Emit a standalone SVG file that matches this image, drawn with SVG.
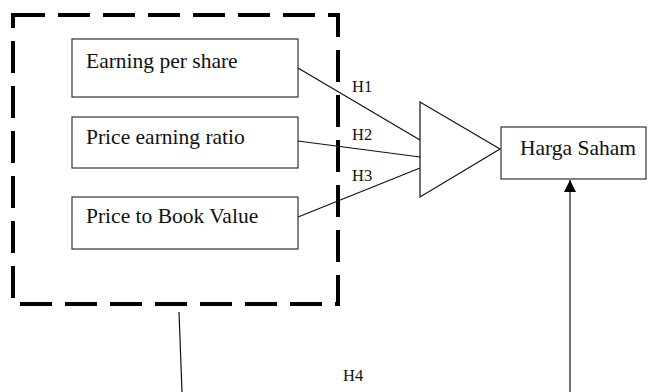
<svg xmlns="http://www.w3.org/2000/svg" width="650" height="392" viewBox="0 0 650 392">
  <defs>
    <marker id="arrowUp" viewBox="0 0 12 12" refX="12" refY="6" markerWidth="12" markerHeight="12" markerUnits="userSpaceOnUse" orient="auto">
      <path d="M0,0 L12,6 L0,12 Z" fill="#000"/>
    </marker>
  </defs>
  <style>
    .box { fill: #fff; stroke: #333; stroke-width: 1.2; }
    .label { font-family: "Liberation Serif", "Times New Roman", serif; font-size: 21.5px; fill: #111; }
    .hyp { font-family: "Liberation Serif", "Times New Roman", serif; font-size: 16.5px; fill: #111; }
    .link { stroke: #111; stroke-width: 1.2; fill: none; }
    .group { fill: none; stroke: #000; stroke-width: 4; stroke-dasharray: 32 13; }
  </style>

  <rect width="650" height="392" fill="#fff"/>

  <!-- dashed boundary around the independent variables -->
  <g id="variables-group">
    <rect class="group" x="13" y="15" width="325" height="289"/>
  </g>

  <!-- connectors -->
  <g id="connectors">
    <line class="link" x1="298" y1="68" x2="420" y2="140"/>
    <line class="link" x1="298" y1="141" x2="420" y2="157"/>
    <line class="link" x1="298" y1="217" x2="420" y2="168"/>
    <line class="link" x1="179" y1="312" x2="182" y2="392"/>
    <line class="link" x1="570" y1="392" x2="570" y2="180" stroke-width="1.8" marker-end="url(#arrowUp)"/>
  </g>

  <g id="eps">
    <rect class="box" x="72" y="39" width="226" height="58"/>
    <text class="label" x="86" y="68">Earning per share</text>
  </g>

  <g id="per">
    <rect class="box" x="72" y="117" width="226" height="51"/>
    <text class="label" x="86" y="144">Price earning ratio</text>
  </g>

  <g id="pbv">
    <rect class="box" x="72" y="197" width="226" height="52"/>
    <text class="label" x="86" y="223">Price to Book Value</text>
  </g>

  <g id="combiner">
    <polygon points="420,102 420,197 500,149" fill="#fff" stroke="#111" stroke-width="1.2"/>
  </g>

  <g id="harga-saham">
    <rect class="box" x="501" y="127" width="145" height="52"/>
    <text class="label" x="520" y="155">Harga Saham</text>
  </g>

  <g id="hypotheses">
    <text class="hyp" x="352" y="92">H1</text>
    <text class="hyp" x="352" y="140">H2</text>
    <text class="hyp" x="352" y="181">H3</text>
    <text class="hyp" x="343" y="381">H4</text>
  </g>
</svg>
